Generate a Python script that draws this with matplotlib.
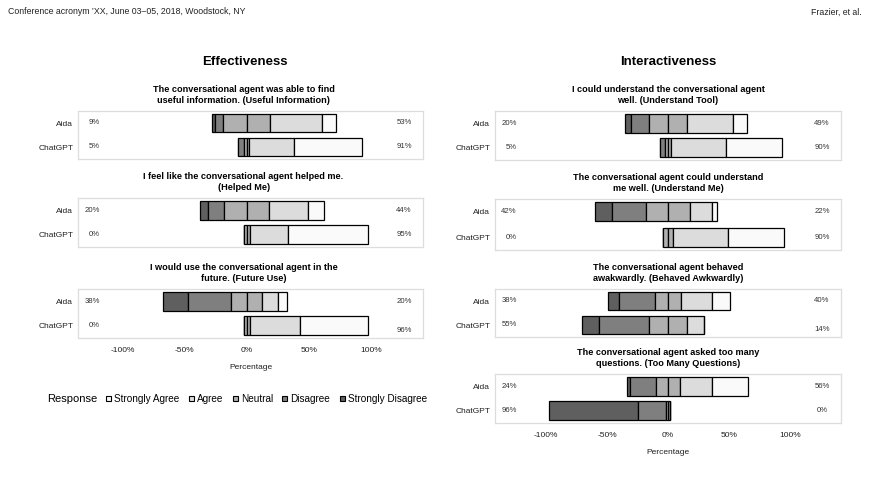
import numpy as np
import matplotlib
matplotlib.use('Agg')
import matplotlib.pyplot as plt
from matplotlib.patches import Patch

plt.rcParams['font.family'] = ['Liberation Sans', 'DejaVu Sans']

# response scale, drawn left (negative) to right (positive)
responses = ['Strongly Disagree', 'Disagree', 'Neutral', 'Agree', 'Strongly Agree']
colors = ['#5f5f5f', '#7f7f7f', '#b0b0b0', '#dcdcdc', '#fafafa']
agents = ['Aida', 'ChatGPT']

# Effectiveness questions, values per response in %
eff_titles = [
    'The conversational agent was able to find\nuseful information. (Useful Information)',
    'I feel like the conversational agent helped me.\n(Helped Me)',
    'I would use the conversational agent in the\nfuture. (Future Use)',
]
eff_aida = [[2, 7, 38, 42, 11], [7, 13, 36, 31, 13], [20, 35, 25, 13, 7]]
eff_chatgpt = [[0, 5, 4, 36, 55], [0, 0, 5, 31, 64], [0, 0, 5, 40, 55]]
eff_neg_labels = [['9%', '5%'], ['20%', '0%'], ['38%', '0%']]
eff_pos_labels = [['53%', '91%'], ['44%', '95%'], ['20%', '96%']]

# Interactiveness questions
int_titles = [
    'I could understand the conversational agent\nwell. (Understand Tool)',
    'The conversational agent could understand\nme well. (Understand Me)',
    'The conversational agent behaved\nawakwardly. (Behaved Awkwardly)',
    'The conversational agent asked too many\nquestions. (Too Many Questions)',
]
int_aida = [[5, 15, 31, 38, 11], [14, 28, 36, 18, 4], [9, 29, 22, 25, 15], [3, 21, 20, 26, 30]]
int_chatgpt = [[0, 4, 5, 45, 46], [0, 0, 9, 45, 46], [14, 41, 31, 14, 0], [73, 23, 4, 0, 0]]
int_neg_labels = [['20%', '5%'], ['42%', '0%'], ['38%', '55%'], ['24%', '96%']]
int_pos_labels = [['49%', '90%'], ['22%', '90%'], ['40%', '14%'], ['56%', '0%']]

W, H = 869, 487
fig = plt.figure(figsize=(W / 100, H / 100), dpi=100)


def box(x0, x1, y0, y1):  # pixel box -> figure fraction rect
    return [x0 / W, 1 - y1 / H, (x1 - x0) / W, (y1 - y0) / H]


def draw_panel(ax, title, rows, neg, pos, xlim, last, tx=0.5, nudge=(0, 0)):
    for i, vals in enumerate(rows):
        vals = np.array(vals, dtype=float)
        parts = [vals[0], vals[1], vals[2] / 2, vals[2] / 2, vals[3], vals[4]]
        cols = [colors[0], colors[1], colors[2], colors[2], colors[3], colors[4]]
        start = -(vals[0] + vals[1] + vals[2] / 2)
        for w, c in zip(parts, cols):
            ax.barh(i, w, left=start, height=0.76, color=c, edgecolor='black', linewidth=0.9)
            start += w
        tr = ax.get_yaxis_transform()
        ax.text(0.063, i, neg[i], transform=tr, ha='right', va='center', fontsize=5.6, color='#333333')
        ax.text(0.945, i + nudge[i], pos[i], transform=tr, ha='center', va='center', fontsize=5.6, color='#333333')
    ax.set_xlim(*xlim)
    ax.set_ylim(1.5, -0.5)
    ax.set_yticks([0, 1])
    ax.set_yticklabels(agents, fontsize=6)
    ax.set_xticks([-100, -50, 0, 50, 100])
    ax.tick_params(length=0, pad=3.5, colors='#222222')
    if last:
        ax.set_xticklabels(['-100%', '-50%', '0%', '50%', '100%'], fontsize=6)
        ax.tick_params(axis='x', pad=6.5)
        ax.set_xlabel('Percentage', fontsize=6, labelpad=7, color='#222222')
    else:
        ax.set_xticklabels([])
    for s in ax.spines.values():
        s.set_color('#dddddd')
        s.set_linewidth(0.9)
    ax.set_title(title, fontsize=6.6, fontweight='bold', x=tx, pad=6, linespacing=1.3)


left_boxes = [(111, 159), (198, 247), (289, 338)]
right_boxes = [(111, 160), (199, 250), (289, 337), (374, 423)]

for k in range(3):
    ax = fig.add_axes(box(78, 423, *left_boxes[k]))
    nudge = (0, 0.2) if k == 2 else (0, 0)
    draw_panel(ax, eff_titles[k], [eff_aida[k], eff_chatgpt[k]], eff_neg_labels[k],
               eff_pos_labels[k], (-136, 142), k == 2, tx=0.48, nudge=nudge)

for k in range(4):
    ax = fig.add_axes(box(495, 841, *right_boxes[k]))
    nudge = (0, 0.2) if k == 2 else (0, 0)
    draw_panel(ax, int_titles[k], [int_aida[k], int_chatgpt[k]], int_neg_labels[k],
               int_pos_labels[k], (-142, 142), k == 3, nudge=nudge)

fig.text(245 / W, 1 - 62 / H, 'Effectiveness', fontsize=9.5, fontweight='bold', ha='center', va='center')
fig.text(668 / W, 1 - 62 / H, 'Interactiveness', fontsize=9.5, fontweight='bold', ha='center', va='center')

# page header
fig.text(8 / W, 1 - 12 / H, 'Conference acronym \u2019XX, June 03\u201305, 2018, Woodstock, NY',
         fontsize=6.3, ha='left', va='center', color='#222222')
fig.text(862 / W, 1 - 12 / H, 'Frazier, et al.', fontsize=6.3, ha='right', va='center',
         color='#222222')

# legend
handles = [Patch(facecolor=colors[i], edgecolor='black', linewidth=0.8, label=responses[i])
           for i in range(4, -1, -1)]
fig.text(47 / W, 1 - 399 / H, 'Response', fontsize=8, ha='left', va='center')
fig.legend(handles=handles, ncol=5, loc='center left', bbox_to_anchor=(106 / W, 1 - 399 / H),
           frameon=False, fontsize=7.2, handlelength=0.5, handleheight=0.5, handletextpad=0.3,
           columnspacing=0.95, borderpad=0, borderaxespad=0)

fig.savefig('out.png', dpi=100)
